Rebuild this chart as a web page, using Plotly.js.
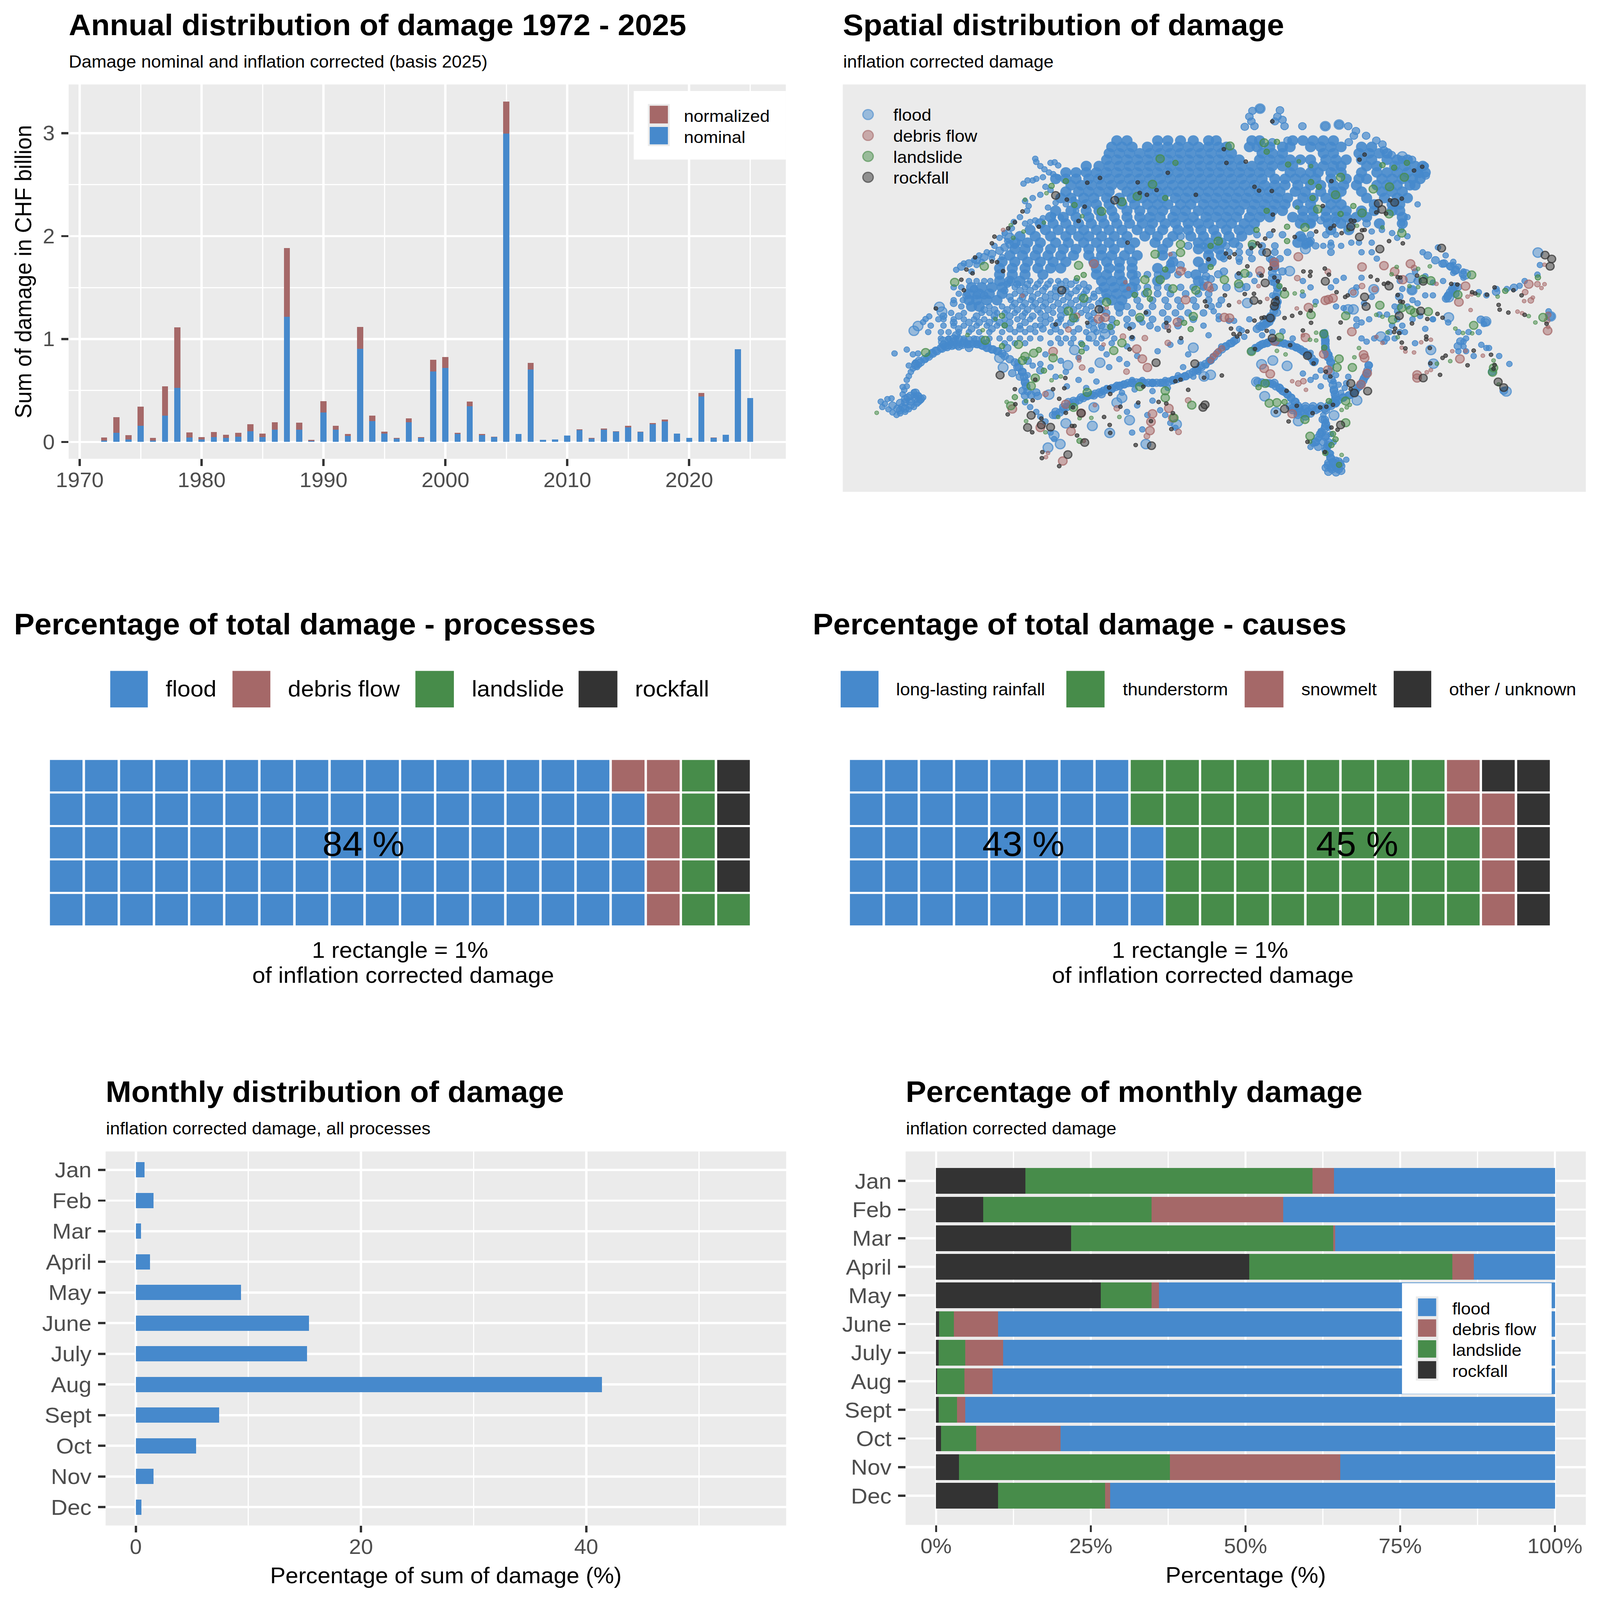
<!DOCTYPE html>
<html><head><meta charset="utf-8">
<script src="https://cdn.plot.ly/plotly-3.0.1.min.js"></script>
<style>html,body{margin:0;padding:0;background:#fff;overflow:hidden}#chart{transform-origin:0 0}</style></head>
<body><div id="chart"></div>
<script>
// ---------- annual damage (CHF billion) ----------
const years=[1972,1973,1974,1975,1976,1977,1978,1979,1980,1981,1982,1983,1984,1985,1986,1987,1988,1989,1990,1991,1992,1993,1994,1995,1996,1997,1998,1999,2000,2001,2002,2003,2004,2005,2006,2007,2008,2009,2010,2011,2012,2013,2014,2015,2016,2017,2018,2019,2020,2021,2022,2023,2024,2025];
const nominal=[.014,.09,.024,.157,.014,.256,.527,.043,.024,.047,.038,.052,.104,.047,.119,1.215,.119,.01,.285,.119,.057,.906,.204,.081,.033,.19,.038,.683,.717,.076,.346,.066,.047,2.995,.076,.702,.021,.024,.064,.116,.033,.121,.1,.142,.095,.171,.199,.083,.04,.441,.038,.069,.902,.427];
const normalized=[.045,.242,.066,.342,.038,.541,1.115,.093,.047,.095,.069,.09,.171,.081,.19,1.884,.187,.019,.396,.157,.076,1.118,.254,.1,.038,.23,.047,.797,.826,.09,.394,.078,.052,3.308,.078,.767,.021,.024,.064,.123,.038,.13,.104,.157,.102,.185,.216,.083,.04,.475,.045,.069,.902,.427];
// ---------- waffle counts ----------
const processLabels=['flood','debris flow','landslide','rockfall'];
const processCounts=[84,6,6,4];
const causeLabels=['long-lasting rainfall','thunderstorm','snowmelt','other / unknown'];
const causeCounts=[43,45,6,6];
// ---------- monthly ----------
const months=['Jan','Feb','Mar','April','May','June','July','Aug','Sept','Oct','Nov','Dec'];
const monthlyShare=[.77,1.59,.45,1.27,9.34,15.37,15.19,41.4,7.39,5.35,1.59,.5];
const pctRockfall=[14.4,7.6,21.8,50.6,26.6,.5,.4,.15,.4,.8,3.7,10];
const pctLandslide=[46.4,27.2,42.4,32.8,8.2,2.4,4.3,4.45,3,5.7,34.1,17.3];
const pctDebris=[3.5,21.3,.3,3.5,1.2,7.1,6.1,4.5,1.3,13.6,27.5,.8];
const pctFlood=[35.7,43.9,35.5,13.1,64,90,89.2,90.9,95.3,79.9,34.7,71.9];
// ---------- map events: map-grid rows [y,[x...]] and flat x,y lists ----------
const floodCoreRows=[
[440,[620,640,700,720,745,770,800,815,885,900,965,985,1005,1025,1045]],
[460,[610,630,650,680,700,720,740,760,780,800,820,835,880,895,920,945,960,1000,1020,1040,1060,1100,1120]],
[480,[605,625,645,665,685,705,725,745,765,785,805,825,845,905,925,945,1025,1045,1095,1115,1135,1150]],
[500,[600,620,640,660,680,700,720,740,760,780,800,820,840,860,900,920,940,960,980,1000,1030,1050,1070,1100,1120,1150,1170,1190]],
[520,[560,585,605,625,645,665,685,705,725,745,765,785,805,825,845,865,885,905,925,945,965,1005,1025,1045,1060,1110,1130,1165,1185,1205,1220]],
[540,[520,540,560,580,600,620,640,660,680,700,720,740,760,780,800,820,840,860,880,900,920,960,980,1000,1015,1040,1060,1100,1130,1150,1170,1190,1210,1225]],
[560,[500,520,540,565,585,605,625,645,665,685,705,725,745,765,785,805,825,845,865,885,905,930,950,970,990,1010,1040,1070,1095,1110,1140,1160,1180,1200,1215]],
[580,[530,550,570,590,610,630,650,670,690,710,730,750,770,790,810,830,850,870,890,910,930,950,975,1000,1020,1045,1065,1090,1130,1150,1170,1195,1205]],
[600,[520,545,565,585,605,640,660,680,700,720,740,760,780,800,820,840,860,880,900,920,940,970,990,1020,1045,1060,1100,1140,1160,1180]],
[620,[510,530,555,575,600,625,650,670,690,710,735,755,775,795,815,835,855,875,895,915,935,955,985,1005,1030,1050,1110,1145,1170,1190]],
[640,[540,560,580,605,630,655,680,700,720,745,765,790,810,830,850,870,890,910,930,950,975,1000,1040,1060,1125,1160,1175]],
[660,[500,530,560,585,610,640,665,690,710,735,755,780,800,820,840,860,885,905,925,945,985,1005,1030,1050,1070,1100,1125,1160,1175]],
[680,[490,515,540,565,590,615,640,665,685,705,730,750,770,795,815,835,855,880,900,920,965,985,1005,1030,1050,1070,1090,1110,1180]],
[700,[470,495,520,545,570,595,620,645,670,690,715,735,760,780,800,825,845,870,890,980,1000,1035,1060,1135,1180]],
[720,[450,480,505,530,555,580,605,630,660,685,710,740,760,785,810,835,860,880,1040,1075]],
[740,[430,460,490,520,545,565,590,615,640,675,700,730,765,790,815,840,865,980]],
[760,[420,445,470,500,525,555,580,605,630,655,695,720,780,800,825,850,975,995]],
[780,[420,440,465,490,515,540,565,590,615,645,710,780,800,820]],
[800,[410,435,460,485,510,535,565,590,610,635,660,710,800,825]],
[820,[395,420,445,470,495,520,575,600,625,650,730,780,805]],
[840,[390,415,440,465,490,510,580,605,625,650,700,725,790]],
[860,[390,415,440,475,580,600,625,650,715,775]],
[880,[390,410,430,590,610,630,655,700,780]],
[900,[335,355,375,395,595,615,635,650]],
[920,[330,350,370,395,600,620,640]],
[940,[330,345,365,385,610,630]],
[960,[335,350,625]]];
const floodFieldRows=[
[735,[895,920,945,1000,1030]],
[770,[790,815,835,860,885,905,930,990,1010,1040]],
[790,[840,860,880,905,930,955,1040]],
[810,[830,860,885,920,940]],
[860,[660,680,700,740,760]],
[890,[405,425,445,465,485,510,530,555]],
[900,[660,680,700,720,745,770,790]],
[910,[400,430,450,475,500,520,540,560,585]],
[920,[655,675,700,725,755,780,800]],
[930,[410,435,455,480,500,525,550,575,600]],
[940,[660,690,715,740,770,800,825]],
[950,[300,420,440,460,480,505,530,555,585]],
[960,[640,665,690,720,745,775,805]],
[970,[360,380,405,425,445,465,485,510,535,560,590]],
[980,[600,625,650,680,710,735,760,790]],
[990,[280,310,345,380,410,435,455,480,510,535,565]],
[1000,[610,640,665,690,720,745,770]],
[1010,[300,330,350,370,390,410,440,480,505,530,575]],
[1020,[590,610,650,685,715,740]],
[1030,[310,335,375,410,430,450,475,500,545,575]]];
const floodValleys=[500,1300,508,1292,515,1283,522,1275,530,1268,538,1260,546,1253,554,1247,562,1241,570,1237,578,1233,586,1229,594,1224,602,1220,610,1216,618,1212,626,1208,634,1204,642,1200,650,1198,658,1198,666,1198,674,1199,682,1199,690,1199,698,1199,706,1199,714,1199,722,1195,730,1191,738,1187,746,1183,754,1178,762,1172,770,1165,778,1158,786,1150,794,1140,802,1130,810,1118,818,1106,826,1094,834,1085,842,1076,850,1068,
400,1115,410,1125,420,1135,428,1150,434,1165,438,1180,440,1195,442,1210,445,1225,452,1237,465,1240,
225,1145,235,1135,243,1125,251,1117,259,1108,267,1100,277,1092,287,1087,297,1083,307,1080,317,1080,327,1078,337,1077,347,1078,357,1083,367,1088,377,1094,387,1100,290,1065,300,1070,310,1062,320,1068,330,1065,345,1065,305,1050,205,1250,215,1240,225,1230,235,1250,195,1285,205,1280,
315,835,330,825,345,815,360,805,375,795,390,785,400,775,410,765,
925,815,928,825,930,840,925,855,925,870,930,885,935,900,935,915,932,930,935,945,933,960,928,975,922,990,915,1000,908,1012,900,1022,895,1030,905,1022,915,1012,922,1000,
892,1090,900,1083,908,1077,916,1073,924,1069,932,1070,940,1073,948,1076,956,1079,964,1083,972,1088,980,1094,988,1102,996,1112,1002,1122,1007,1134,
905,1198,915,1200,925,1203,932,1210,940,1217,948,1227,955,1236,962,1247,970,1258,965,1278,978,1278,990,1280,1003,1280,1015,1280,1028,1280,1040,1272,975,1290,988,1295,1000,1295,
1026,1044,1028,1055,1029,1066,1029,1077,1029,1088,1031,1100,1034,1110,1037,1122,1040,1135,1044,1205,1046,1220,1048,1235,1049,1250,1049,1262,
1114,1144,1112,1160,1108,1178,1103,1193,1096,1210,1088,1225,1076,1238,1064,1246,1054,1254,1046,1262,
1028,1315,1030,1328,1028,1342,1022,1355,1015,1370,1010,1385,1030,1365,1035,1385,1032,1400,1036,1420,1040,1435,1044,1447,1034,1458,1048,1458,1058,1452,1042,1470,1055,1470,
1266,935,1270,925,1274,915,1278,905,1283,897,1230,800,1245,815,1262,825,1275,835,1285,845];
const floodSmall=[460,497,462,507,470,520,478,530,490,510,498,508,505,518,437,575,445,565,455,565,462,560,475,555,487,540,495,545,505,555,480,585,470,610,455,620,440,630,447,645,444,660,490,595,500,635,520,640,535,625,540,660,485,650,430,680,418,695,414,715,440,700,450,695,460,690,475,683,495,675,510,680,400,730,390,745,405,755,380,770,365,790,350,800,340,815,320,825,305,845,335,850,345,830,355,820,375,810,395,805,420,770,430,760,
330,880,345,880,360,880,372,880,410,880,450,880,470,880,490,880,505,880,520,880,540,880,300,900,315,900,420,900,440,900,460,900,480,900,500,900,520,900,545,900,565,900,310,920,420,920,440,920,465,920,490,920,510,920,530,920,555,920,575,920,300,940,318,940,412,940,430,940,452,940,470,940,490,940,515,940,540,940,565,940,590,940,315,960,370,960,395,960,415,960,435,960,455,960,475,960,495,960,520,960,545,960,570,960,295,980,320,980,355,980,370,980,385,980,400,980,420,980,440,980,470,980,495,980,520,980,550,980,575,980,270,1000,280,1000,300,1000,320,1000,340,1000,360,1000,380,1000,400,1000,425,1000,450,1000,470,1000,490,1000,510,1000,540,1000,570,1000,590,1000,255,1020,280,1020,300,1020,320,1020,345,1020,365,1020,385,1020,400,1020,430,1020,460,1020,470,1020,495,1020,520,1020,565,1020,250,1040,275,1040,290,1040,310,1040,330,1040,350,1040,370,1040,395,1040,420,1040,440,1040,460,1040,490,1040,510,1040,535,1040,560,1040,580,1040,610,1040,275,1060,290,1060,305,1060,320,1060,340,1060,355,1060,370,1060,390,1060,410,1060,430,1060,450,1060,470,1060,505,1060,520,1060,535,1060,565,1060,590,1060,280,1075,295,1075,310,1075,325,1075,345,1075,360,1075,400,1075,420,1075,440,1075,490,1075,510,1075,530,1075,550,1075,580,1075,610,1075,
157,1258,165,1265,170,1250,178,1248,160,1275,172,1282,180,1292,188,1300,195,1295,205,1290,212,1282,222,1275,228,1265,235,1255,240,1245,232,1240,222,1238,222,1228,200,1235,203,1222,208,1210,200,1212,208,1190,212,1178,216,1165,220,1155,228,1150,232,1143,225,1135,212,1145,245,1125,250,1115,184,1107,208,1095,220,1110,230,1107,252,991,245,999,240,1009,
650,1059,640,1085,660,1115,700,1100,725,1080,745,1070,760,1110,790,1020,820,990,840,1005,860,1030,800,1050,880,1000,700,1030,670,1010,640,1020,560,1090,545,1120,590,1090,615,1060,600,1110,605,1150,625,1125,640,1140,570,1160,545,1190,522,1210,560,1215,580,1195,
750,1150,740,1175,715,1190,690,1200,670,1190,650,1190,620,1205,600,1215,590,1225,570,1240,655,1220,630,1230,690,1225,720,1215,
425,1135,445,1175,455,1145,470,1140,490,1150,520,1165,500,1180,510,1130,480,1110,
440,1260,450,1275,462,1290,470,1305,480,1320,490,1355,497,1375,660,1270,640,1290,690,1255,705,1285,715,1300,725,1325,735,1340,680,1300,670,1345,650,1355,
905,1050,925,1040,945,1038,965,1060,970,1090,1000,1105,1010,1130,1020,1160,1030,1180,1045,1195,1055,1205,1067,1215,1060,1230,1028,1040,1029,1060,1037,1110,1040,1150,1050,1175,1074,1180,1070,1200,1000,1190,985,1170,1010,1180,1020,1210,
1025,1300,1030,1320,1035,1340,1020,1350,1015,1375,1005,1390,1000,1400,1040,1360,1045,1385,1035,1400,1040,1420,1050,1440,1070,1440,
1125,1060,1110,1070,1100,1060,1145,1070,1165,1060,1175,1040,1180,1020,1200,1000,1215,990,1240,1000,1270,1010,1290,1040,1305,1060,1300,1085,1290,1100,1305,1100,1320,1115,1335,1080,1345,1090,1300,1070,1340,1015,1330,1040,1310,1040,1100,1010,1115,1000,1135,985,1150,985,1170,1000,1185,1040,1190,960,1200,940,1210,950,1225,925,1240,925,1175,880,1180,905,1120,930,1105,950,
1205,850,1225,865,1240,885,1260,880,1280,855,1280,830,1300,870,1330,915,1345,925,1365,905,1385,905,1410,895,1420,880,1445,860,1450,830,1467,975,1240,1000,1225,1030,1205,1075,1150,1060,1155,1040,1160,1020,1170,975,1165,960,1175,960,1350,1090,1370,1115,1390,1140,
820,955,810,975,820,1000,850,1005,865,1035,870,1055,825,1085,805,1125,795,1145,780,1165,770,1180,925,885,935,905,925,925,890,880,860,820,880,860,900,860,
1090,900,1100,870,1065,870,1050,880,1040,900,1090,1000,1090,1020,1050,960,1065,965,985,880,1000,900,985,925,1010,945,
1210,640,1190,680,1180,700,1178,720,1190,740,1170,745,1220,790,1250,775,1265,800,1280,820,1290,835,1300,850,1120,760,1095,760,1120,725,1140,720,1160,730,1050,735,1040,760,1025,770,1000,760,1060,770,1080,760,1100,790,1120,790,1130,810];
const floodMedium=[195,1262,205,1260,215,1258,225,1250,230,1240,190,1280,200,1275,215,1270,180,1270,210,1245,230,1258,
258,1105,265,1098,275,1090,283,1085,290,1082,300,1080,310,1085,320,1075,330,1078,345,1078,355,1082,365,1090,375,1095,385,1100,395,1108,225,1140,232,1130,
470,1160,415,1169,435,1164,440,1199,435,1224,440,1239,462,1229,430,1180,425,1150,445,1130,
525,1259,500,1289,550,1244,575,1239,610,1219,635,1204,670,1199,710,1199,755,1179,775,1159,785,1145,804,1129,834,1084,854,1064,845,1075,515,1275,535,1255,560,1240,590,1235,625,1210,650,1200,690,1200,730,1190,495,1300,
1026,1044,1029,1069,1029,1094,1034,1119,1039,1134,1039,1164,1041,1189,1046,1224,1049,1244,1049,1264,896,1196,929,1199,939,1214,954,1234,969,1259,920,1200,945,1225,962,1245,
960,1272,975,1270,990,1272,1005,1272,1020,1272,1035,1270,1050,1262,965,1285,980,1290,995,1288,1010,1285,1030,1285,975,1300,990,1305,
1024,1314,1029,1334,1019,1359,1009,1384,1029,1369,1034,1394,1039,1434,1025,1385,1015,1400,1030,1410,
1035,1450,1045,1450,1055,1445,1030,1465,1040,1465,1050,1465,1060,1460,1035,1478,1050,1480,1060,1475,
884,1099,904,1079,924,1069,949,1076,974,1089,994,1109,1006,1134,895,1090,915,1075,935,1072,962,1080,985,1100,
1114,1144,1111,1169,1099,1204,1084,1229,1064,1244,1044,1259,1105,1185,1092,1215,1075,1238,
904,1024,919,1009,934,979,924,994,934,949,930,965,912,1016,
819,859,804,874,859,864,874,899,830,850,795,865,790,895,810,900,835,900,930,835,945,850,935,870,
1199,909,1174,929,1269,929,1279,909,1289,899,1364,914,1399,901,1299,859,1274,834,1259,826,1284,848,1284,920,1210,880,
1289,1084,1294,1069,1344,1009,1334,1001,1379,1224,1356,1164,1471,991,
1029,395,1056,390,1074,395,1089,410,1109,425,1129,440,1141,452,1144,470,1159,485,1179,500,1199,500,1224,520,1226,550,1214,545,871,397,884,380,901,340,886,347,949,395,984,395,940,345,935,365,945,375,930,380,880,365,890,395,
905,455,925,445,955,440,1075,445,1085,425,1000,700,1020,690,1050,690,1080,700,1110,700,
985,745,990,765,1000,755,730,800,725,825,745,830,760,770,745,740,
300,1060,280,1080,330,1090,365,1075,405,1090,340,905,325,925,345,925,360,925];
const floodLarge=[390,1121,397,1151,487,1236,520,1326,497,1364,509,1391,485,1402,572,1334,606,1356,645,1316,677,1391,737,1329,770,1089,587,1136,524,1144,595,1028,597,1046,570,1054,537,1096,280,1071,222,1036,230,1021,277,976,272,961,630,1246,620,1261,575,1276,
861,899,959,849,1199,909,1196,871,1344,1007,1271,994,1241,1139,1138,1054,1236,1096,954,1146,926,1129,904,1141,894,1196,910,1241,932,1291,1091,1254,1046,1301,976,1319,1384,1226,1446,791,1304,859,1271,931,1074,969,1084,969,876,949,791,1179,804,1174,1124,906,1084,916,791,879,1471,991,
901,340,1056,390,1029,395,405,735,410,745,990,780,1180,490];
const debrisSmall=[397,720,555,1381,485,1419,481,1432,1236,1159,1228,1166,1308,929,1316,922,1338,1114,1304,1099,1278,1100,1314,971,1406,976,1415,981,1459,890,1453,902,1419,943,1436,932,1459,829,1466,1024,1179,1089,1186,1101,1203,1104,1217,1072,1236,1064,898,896,915,936,860,946,973,966,985,1050,1129,1055,1141,1074,964,1194,991,1221,577,1269,546,1119,546,1129,594,1079,435,926,600,964,637,884,643,904,725,796,752,844,1247,889];
const debrisMedium=[804,906,974,871,1034,851,1203,839,1084,916,1101,896,1126,906,976,1201,986,1194,804,1129,814,1109,826,1091,809,1117,819,1100,1432,941,1421,915,1445,890,1464,1004,1466,986,480,1234,639,1164,720,1074,760,1254,741,1353,679,1366,632,1054,675,1059,525,1032,542,989,720,1024,620,1279,552,1151];
const debrisLarge=[799,896,901,848,929,821,929,831,976,804,1101,836,1144,832,1165,850,1196,826,1181,876,1044,934,1029,941,1035,938,996,963,831,994,841,996,990,1057,1081,1039,930,1069,1026,1109,1034,1159,1106,1121,1104,1111,1111,1169,1099,1204,909,1154,921,1171,964,1296,1293,1124,1209,1174,1209,1184,1304,896,1291,946,1428,890,1465,1036,415,1281,530,1351,470,1339,520,1266,550,1294,514,1444,659,1093,670,1124,680,1151,687,1321,685,1349,690,1296,722,1279,730,1309,584,999,597,994,575,826,745,849,755,939,739,1009,495,1101];
const landslideSmall=[1001,520,974,650,1074,720,1091,707,1141,712,977,505,482,605,440,625,552,677,477,697,437,725,417,745,412,705,510,1179,492,1191,442,1256,404,1259,442,1319,480,1354,625,1306,570,1309,547,1310,505,1306,149,1293,357,1034,327,1049,382,999,969,919,984,913,1129,986,1141,992,1428,990,1441,1010,1086,1119,1095,1090,934,1099,951,1110,1009,956,1011,1042,1011,1066,999,1064,1071,1276,1077,1268,1061,1284,999,1384,1061,1425,1369,1204,1359,1129,1299,1043,1317,1044,1284,1029,1248,1139,1274,1131,1234,834,1211,842,1169,836,1159,859,1194,896,1211,899,1171,1056,1151,1041,1367,929,1329,924];
const landslideMedium=[956,515,1001,570,1016,585,1004,620,1164,525,1189,510,1141,517,1084,645,1059,670,954,710,914,660,894,720,804,770,954,755,492,582,520,567,537,642,735,510,715,620,555,861,542,871,685,936,655,924,715,844,752,1011,765,1031,607,1024,620,1011,552,1079,551,1101,467,1096,477,1161,420,1244,547,1381,395,989,400,1019,395,1084,804,836,939,896,1382,911,1446,869,934,444,914,475,1044,1359,1049,1376,1041,1394,1029,1419,1056,1456,949,1259,898,1213,1036,1256,1027,1089];
const landslideLarge=[842,457,909,447,1059,555,1049,610,1014,655,1123,592,1155,585,1184,555,1101,667,1154,670,1179,730,989,712,819,755,886,765,590,662,630,632,705,497,690,577,660,615,745,765,302,884,360,834,545,831,600,946,525,974,555,934,535,996,680,916,705,876,675,876,695,796,745,791,775,909,730,904,770,991,665,994,630,1074,614,1098,495,1121,457,1106,435,1129,460,1184,452,1209,412,1271,562,1229,535,1276,665,1211,715,1224,715,1246,767,1269,732,1309,245,1104,362,1066,427,1079,440,1116,859,889,871,856,831,876,949,921,1136,956,1069,989,1161,1001,1204,979,1221,874,1236,879,1289,923,1316,861,1456,994,884,1101,939,1056,1001,986,1026,1046,1056,1124,1052,1151,1082,1151,911,1201,919,1263,934,1261,989,1314,1069,1256,1069,1324,999,1366,1357,1166,1359,1152,1320,1019,1196,971,1231,976,1179,964];
const rockfallSmall=[342,806,325,844,337,856,375,819,385,821,315,876,320,909,265,966,397,849,500,1016,562,1011,645,1029,650,1056,645,1094,677,979,717,1011,722,1036,746,1059,735,1194,745,1189,760,1221,672,1211,605,1214,607,1234,460,1189,420,1219,495,1219,517,1216,519,1184,662,1261,627,1274,595,1306,534,1276,520,1293,507,1249,455,1254,421,1266,406,1298,472,1311,454,1354,532,1334,537,1334,542,1364,606,1331,607,1356,687,1319,657,1394,702,1259,717,1264,727,1344,730,1294,474,1416,473,1435,507,1460,
522,625,557,647,435,662,587,557,562,572,661,571,720,541,698,595,679,610,665,604,775,610,420,696,407,715,467,710,380,741,375,762,545,692,641,760,
830,467,873,506,835,510,890,585,899,597,924,598,925,380,1106,484,1096,500,1041,567,1203,534,1219,522,1156,627,1024,645,1179,622,1148,669,1129,665,1079,690,1086,692,1046,707,1039,715,1011,725,1061,730,1101,721,1106,720,926,672,927,722,911,747,896,762,884,777,901,770,969,742,1154,755,1181,762,
841,806,851,796,800,812,834,794,876,834,859,856,904,863,921,841,929,869,936,881,949,906,871,921,889,920,832,925,999,864,986,850,1000,851,1028,841,1036,860,840,956,793,944,796,959,901,946,934,934,904,996,909,994,890,1004,949,996,964,989,980,980,1000,973,1001,1011,985,1035,1059,1010,1056,1059,1051,915,1073,925,1068,930,1118,866,1131,877,1144,889,1152,886,1176,869,1171,868,1209,863,1276,889,1288,891,1181,946,1176,944,1171,924,1249,983,1259,995,1229,999,1199,1013,1166,1029,1174,1043,1164,1040,1179,1073,1186,1091,1227,1054,1227,1063,1234,1090,1317,915,1323,919,1346,923,1361,900,1369,955,1371,970,1388,979,1398,909,1414,925,1420,986,1463,1014,1265,1114,1259,1121,1235,1138,1308,1144,1320,1098,1354,1111,1361,1143,1359,1155,1254,1174,826,1176,791,1183,849,1046,856,1054,861,1046,844,1029,876,1038,891,1093,914,1036,960,1081,1006,1138,1030,1164,1039,1179,1079,1219,1044,1268,1031,1274,1019,1276,1004,1294,973,1271,953,1224,932,1290,957,1320,1041,1339,1053,1346,994,1384,1028,1416];
const rockfallLarge=[512,909,585,969,697,1136,773,1139,391,1175,550,1294,452,1301,472,1331,445,1339,490,1338,557,1386,688,1396,524,1424,500,612,616,627,1133,637,1140,656,1165,634,1079,710,1096,742,1136,780,1257,777,914,791,911,886,1029,881,889,941,931,946,929,959,921,996,925,1059,994,1114,1079,1201,1086,1231,1112,1225,949,1281,1059,1331,1109,960,1106,930,1154,896,1221,881,1174,989,1216,974,1460,799,1473,811,1470,834,1368,1196,1379,1214,1221,1184,793,1268,789,1276];

// ---------- helpers ----------
const W=5196,H=5433;
const FONT='Liberation Sans';
const BLUE='#4689CC',BROWN='#A56868',GREEN='#478C4A',DARK='#333333';
const domX=(a,b)=>[a/W,b/W];
const domY=(a,b)=>[1-b/H,1-a/H];
const xs=a=>a.filter((_,i)=>i%2===0);
const ys=a=>a.filter((_,i)=>i%2===1);
const rgba=(h,al)=>{const n=parseInt(h.slice(1),16);return `rgba(${n>>16},${(n>>8)&255},${n&255},${al})`;};
const anns=[];
function txt(text,x,base,size,opt={}){anns.push(Object.assign({text,xref:'paper',yref:'paper',x:x/W,y:1-(base-0.33*size)/H,xanchor:'left',yanchor:'middle',showarrow:false,borderpad:0},opt,{font:{family:FONT,size,color:(opt.color||'#000')}}));}
const shapes=[];
function rect(x0,y0,x1,y1,fill,layer='above'){shapes.push({type:'rect',xref:'paper',yref:'paper',x0:x0/W,x1:x1/W,y0:1-y0/H,y1:1-y1/H,fillcolor:fill,line:{width:0},layer});}

// panel backgrounds
rect(223,287,2552,1558,'#EBEBEB','below');
rect(2737,287,5150,1670,'#EBEBEB','below');
rect(343,3910,2553,5180,'#EBEBEB','below');
rect(2941,3910,5150,5178,'#EBEBEB','below');

// titles
txt('<b>Annual distribution of damage 1972 - 2025</b>',222,118,100);
txt('Damage nominal and inflation corrected (basis 2025)',222,229,58);
txt('<b>Spatial distribution of damage</b>',2736,118,100);
txt('inflation corrected damage',2737,229,58);
txt('<b>Percentage of total damage - processes</b>',44,2152,100);
txt('<b>Percentage of total damage - causes</b>',2638,2152,100);
txt('<b>Monthly distribution of damage</b>',342,3740,100);
txt('inflation corrected damage, all processes',343,3851,58);
txt('<b>Percentage of monthly damage</b>',2940,3740,100);
txt('inflation corrected damage',2941,3851,58);

// annual legend
rect(2058,309,2552,542,'#FFFFFF');
rect(2104,353,2175,496,'#EBEBEB');
rect(2110,359,2169,419,BROWN);
rect(2110,431,2169,490,BLUE);
txt('normalized',2220,413,57);
txt('nominal',2220,484,57);

// map legend
[BLUE,BROWN,GREEN,DARK].forEach((c,i)=>{
  const cy=[389,460,531,602][i];
  shapes.push({type:'circle',xref:'paper',yref:'paper',x0:(2819-17)/W,x1:(2819+17)/W,y0:1-(cy-17)/H,y1:1-(cy+17)/H,fillcolor:rgba(c,.5),line:{color:rgba(c,.6),width:4},layer:'above'});
  txt(processLabels[i],2900,[409,480,552,623][i],57);
});

// waffle legends
[[358,480],[755,878],[1349,1474],[1879,2005]].forEach((k,i)=>rect(k[0],2278,k[1],2402,[BLUE,BROWN,GREEN,DARK][i]));
[537,934,1531,2061].forEach((x,i)=>txt(processLabels[i],x,2364,76));
[[2730,2853],[3463,3587],[4042,4168],[4526,4648]].forEach((k,i)=>rect(k[0],2278,k[1],2402,[BLUE,GREEN,BROWN,DARK][i]));
[2909,3645,4225,4705].forEach((x,i)=>txt(causeLabels[i],x,2360,58));
// waffle labels
txt(processCounts[0]+' %',1180,2904,117,{xanchor:'center'});
txt(causeCounts[0]+' %',3323,2904,117,{xanchor:'center'});
txt(causeCounts[1]+' %',4407,2904,117,{xanchor:'center'});
txt('1 rectangle = 1%',1299,3252,76,{xanchor:'center'});
txt('of inflation corrected damage',1309,3336,76,{xanchor:'center'});
txt('1 rectangle = 1%',3897,3252,76,{xanchor:'center'});
txt('of inflation corrected damage',3906,3336,76,{xanchor:'center'});

// pct legend
rect(4553,4357,5039,4733,'#FFFFFF');
rect(4598,4402,4671,4688,'#EBEBEB');
[[4409,4469],[4480,4539],[4551,4610],[4622,4681]].forEach((k,i)=>{rect(4605,k[0],4664,k[1],[BLUE,BROWN,GREEN,DARK][i]);});
[4463,4533,4603,4674].forEach((b,i)=>txt(processLabels[i],4715,b,57));

function waffleZ(counts){
  const z=[0,1,2,3,4].map(()=>Array(20).fill(0));
  let cat=0,left=counts[0];
  for(let c=0;c<20;c++)for(let r=0;r<5;r++){
    while(left===0&&cat<counts.length-1){cat++;left=counts[cat];}
    z[r][c]=cat;left--;
  }
  return z;
}
const cols=Array.from({length:20},(_,i)=>i+1),rows=[1,2,3,4,5];
const scale=cs=>[[0,cs[0]],[.25,cs[0]],[.25,cs[1]],[.5,cs[1]],[.5,cs[2]],[.75,cs[2]],[.75,cs[3]],[1,cs[3]]];

const scat=(name,arr,color,size,lw,al)=>({type:'scatter',mode:'markers',name,x:xs(arr),y:ys(arr),xaxis:'x2',yaxis:'y2',hoverinfo:'name',showlegend:false,
  marker:{size,color:rgba(color,al),line:{color:rgba(color,Math.min(1,al+.25)),width:lw}}});
const rowsToFlat=rs=>{const f=[];rs.forEach(r=>r[1].forEach(x=>f.push(x,r[0])));return f;};

const traces=[
 {type:'bar',name:'nominal',x:years,y:nominal,width:.5,marker:{color:BLUE,line:{width:0}},xaxis:'x',yaxis:'y',showlegend:false},
 {type:'bar',name:'normalized',x:years,y:normalized.map((v,i)=>+(v-nominal[i]).toFixed(3)),width:.5,marker:{color:BROWN,line:{width:0}},xaxis:'x',yaxis:'y',showlegend:false},
 scat('flood',rowsToFlat(floodCoreRows),BLUE,36,0,.9),
 scat('flood',rowsToFlat(floodFieldRows),BLUE,23,2,.75),
 scat('flood',floodValleys,BLUE,26,2,.75),
 scat('flood',floodSmall,BLUE,19,2,.75),
 scat('flood',floodMedium,BLUE,25,2.5,.7),
 scat('flood',floodLarge,BLUE,32,4,.5),
 scat('debris flow',debrisSmall,BROWN,13,2,.55),
 scat('debris flow',debrisMedium,BROWN,19,3,.5),
 scat('debris flow',debrisLarge,BROWN,28,4,.5),
 scat('landslide',landslideSmall,GREEN,13,2,.55),
 scat('landslide',landslideMedium,GREEN,18,3,.6),
 scat('landslide',landslideLarge,GREEN,27,4,.5),
 scat('rockfall',rockfallSmall,DARK,13,2,.7),
 scat('rockfall',rockfallLarge,DARK,26,4,.5),
 {type:'heatmap',x:cols,y:rows,z:waffleZ(processCounts),zmin:0,zmax:3,colorscale:scale([BLUE,BROWN,GREEN,DARK]),showscale:false,xgap:8,ygap:7,xaxis:'x3',yaxis:'y3',hoverinfo:'z'},
 {type:'heatmap',x:cols,y:rows,z:waffleZ(causeCounts),zmin:0,zmax:3,colorscale:scale([BLUE,GREEN,BROWN,DARK]),showscale:false,xgap:8,ygap:7,xaxis:'x4',yaxis:'y4',hoverinfo:'z'},
 {type:'bar',orientation:'h',name:'share',y:months,x:monthlyShare,width:.5,marker:{color:BLUE,line:{width:0}},xaxis:'x5',yaxis:'y5',showlegend:false},
 {type:'bar',orientation:'h',name:'rockfall',y:months,x:pctRockfall,width:.9,marker:{color:DARK,line:{width:0}},xaxis:'x6',yaxis:'y6',showlegend:false},
 {type:'bar',orientation:'h',name:'landslide',y:months,x:pctLandslide,width:.9,marker:{color:GREEN,line:{width:0}},xaxis:'x6',yaxis:'y6',showlegend:false},
 {type:'bar',orientation:'h',name:'debris flow',y:months,x:pctDebris,width:.9,marker:{color:BROWN,line:{width:0}},xaxis:'x6',yaxis:'y6',showlegend:false},
 {type:'bar',orientation:'h',name:'flood',y:months,x:pctFlood,width:.9,marker:{color:BLUE,line:{width:0}},xaxis:'x6',yaxis:'y6',showlegend:false}
];

const MAJ=7.5,MIN=3.75;
const ggAxis=(extra)=>Object.assign({showgrid:true,gridcolor:'#FFFFFF',gridwidth:MAJ,zeroline:false,showline:false,ticks:'outside',ticklen:23,tickwidth:7.5,tickcolor:DARK,
  tickfont:{family:FONT,size:70,color:'#4D4D4D'},ticklabelstandoff:7,automargin:false},extra);
const minor=d=>({dtick:d,showgrid:true,gridcolor:'#FFFFFF',gridwidth:MIN,ticklen:0,tickwidth:0,ticks:''});
const hidden=(extra)=>Object.assign({visible:false,showgrid:false,zeroline:false,fixedrange:true},extra);
const axTitle=(text,standoff)=>({text,standoff,font:{family:FONT,size:75,color:'#000'}});

const layout={
 width:W,height:H,margin:{l:0,r:0,t:0,b:0,pad:0},paper_bgcolor:'#FFFFFF',plot_bgcolor:'rgba(0,0,0,0)',barmode:'stack',showlegend:false,
 font:{family:FONT,size:57,color:'#000'},annotations:anns,shapes,
 xaxis:ggAxis({domain:domX(223,2552),anchor:'y',range:[1969.09,2027.93],tickmode:'linear',tick0:1970,dtick:10,minor:minor(5),ticklabelstandoff:-12}),
 yaxis:ggAxis({domain:domY(287,1558),anchor:'x',range:[-.164,3.473],tickmode:'linear',tick0:0,dtick:1,minor:minor(.5),title:axTitle('Sum of damage in CHF billion',12)}),
 xaxis2:hidden({domain:domX(2737,5150),anchor:'y2',range:[82.5,1540]}),
 yaxis2:hidden({domain:domY(287,1670),anchor:'x2',range:[1540.5,264.5]}),
 xaxis3:hidden({domain:domX(158,2439),anchor:'y3',range:[.5,20.5]}),
 yaxis3:hidden({domain:domY(2577.5,3146.5),anchor:'x3',range:[.5,5.5]}),
 xaxis4:hidden({domain:domX(2756,5037),anchor:'y4',range:[.5,20.5]}),
 yaxis4:hidden({domain:domY(2577.5,3146.5),anchor:'x4',range:[.5,5.5]}),
 xaxis5:ggAxis({domain:domX(343,2553),anchor:'y5',range:[-2.68,57.75],tickmode:'linear',tick0:0,dtick:20,minor:minor(10),ticklabelstandoff:-12,title:axTitle('Percentage of sum of damage (%)',33)}),
 yaxis5:ggAxis({domain:domY(3910,5180),anchor:'x5',type:'category',categoryorder:'array',categoryarray:months,range:[11.6,-.6],tickfont:{family:FONT,size:74,color:'#4D4D4D'}}),
 xaxis6:ggAxis({domain:domX(2941,5150),anchor:'y6',range:[-4.93,105],tickmode:'linear',tick0:0,dtick:25,ticksuffix:'%',minor:minor(12.5),ticklabelstandoff:-12,title:axTitle('Percentage (%)',33)}),
 yaxis6:ggAxis({domain:domY(3910,5178),anchor:'x6',type:'category',categoryorder:'array',categoryarray:months,range:[12.02,-1.03],tickfont:{family:FONT,size:74,color:'#4D4D4D'}})
};
// The browser window may be smaller than the reference: fit the whole chart into it.
document.getElementById('chart').style.transform=`scale(${Math.min(1,innerWidth/W)},${Math.min(1,innerHeight/H)})`;
Plotly.newPlot('chart',traces,layout,{staticPlot:true,displayModeBar:false});
</script></body></html>
